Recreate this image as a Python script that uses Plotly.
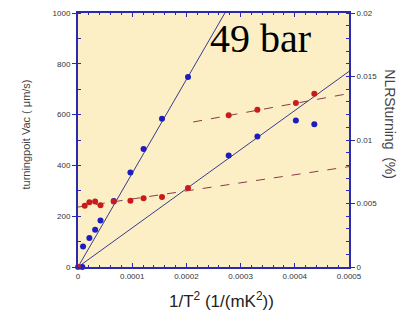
import plotly.graph_objects as go

# Blue: turning point velocity (left axis, um/s)
blue_x = [0.08e-4, 0.093e-4, 0.21e-4, 0.316e-4, 0.415e-4, 0.66e-4, 0.967e-4, 1.21e-4, 1.55e-4, 2.03e-4,
          2.78e-4, 3.31e-4, 4.02e-4, 4.36e-4]
blue_y = [0, 81, 114, 147, 183, 260, 372, 465, 584, 748,
          439, 514, 577, 562]

# Red: NLRS turning (right axis, %)
red_x = [0.0, 0.124e-4, 0.21e-4, 0.316e-4, 0.415e-4, 0.66e-4, 0.967e-4, 1.21e-4, 1.55e-4, 2.03e-4,
         2.78e-4, 3.31e-4, 4.02e-4, 4.36e-4]
red_y = [0.0, 0.00483, 0.0051, 0.00516, 0.00486, 0.00516, 0.00522, 0.00542, 0.00552, 0.00622,
         0.01194, 0.01238, 0.01292, 0.01364]

# Fit lines: (slope, intercept, x_start, x_end)
blue_fits = [(3.69e6, 0.0, 0.0, 2.71e-4), (1.54e6, 0.0, 0.0, 5.0e-4)]
red_fits = [(6.36, 0.00472, 0.0, 5.0e-4), (7.8, 0.00976, 2.125e-4, 5.0e-4)]

x_ticks = [0, 0.0001, 0.0002, 0.0003, 0.0004, 0.0005]
x_labels = ["0", "0.0001", "0.0002", "0.0003", "0.0004", "0.0005"]
y_ticks = [0, 200, 400, 600, 800, 1000]
y2_ticks = [0, 0.005, 0.01, 0.015, 0.02]
y2_labels = ["0", "0.005", "0.01", "0.015", "0.02"]

fig = go.Figure()
for s, b, x0, x1 in blue_fits:
    fig.add_trace(go.Scatter(x=[x0, x1], y=[b + s * x0, b + s * x1], mode="lines",
                             line=dict(color="#3a3a90", width=1), yaxis="y", showlegend=False))
for s, b, x0, x1 in red_fits:
    fig.add_trace(go.Scatter(x=[x0, x1], y=[b + s * x0, b + s * x1], mode="lines",
                             line=dict(color="#8a3a4a", width=1, dash="dash"), yaxis="y2", showlegend=False))
fig.add_trace(go.Scatter(x=blue_x, y=blue_y, mode="markers",
                         marker=dict(color="#1c1cc0", size=6), yaxis="y", showlegend=False, cliponaxis=False))
fig.add_trace(go.Scatter(x=red_x, y=red_y, mode="markers",
                         marker=dict(color="#c81c1c", size=6), yaxis="y2", showlegend=False, cliponaxis=False))

frame = "#2a2ab0"
tickfont = dict(family="Arial", size=8, color="#333333")
fig.update_layout(
    width=415, height=317,
    margin=dict(l=78, r=66, t=9, b=50),
    paper_bgcolor="white",
    plot_bgcolor="#fcefc6",
    showlegend=False,
    xaxis=dict(range=[0, 0.0005], tickvals=x_ticks, ticktext=x_labels, ticks="inside", ticklen=4,
               tickcolor=frame, showgrid=False, zeroline=False, showline=True, linecolor=frame,
               linewidth=2, mirror="ticks", tickfont=tickfont,
               minor=dict(dtick=0.00002, ticks="inside", ticklen=2, tickcolor=frame)),
    yaxis=dict(range=[0, 1000], tickvals=y_ticks, ticks="outside", ticklen=4, tickcolor=frame,
               showgrid=False, zeroline=False, showline=True, linecolor=frame, linewidth=2,
               tickfont=tickfont,
               minor=dict(dtick=100, ticks="inside", ticklen=3, tickcolor=frame)),
    yaxis2=dict(range=[0, 0.02], tickvals=y2_ticks, ticktext=y2_labels, overlaying="y", side="right",
                ticks="outside", ticklen=4, tickcolor=frame, showgrid=False, zeroline=False,
                showline=True, linecolor=frame, linewidth=2, tickfont=tickfont,
                minor=dict(dtick=0.001, ticks="inside", ticklen=3, tickcolor=frame)),
)

fig.add_annotation(text="49 bar", xref="paper", yref="paper", x=0.48, y=0.995, xanchor="left",
                   yanchor="top", showarrow=False,
                   font=dict(family="Liberation Serif", size=40, color="black"))
fig.add_annotation(text="turningpoit Vac ( μm/s)", xref="paper", yref="paper", x=-0.22, y=0.523,
                   textangle=-90, showarrow=False, font=dict(family="Arial", size=11, color="#444444"))
fig.add_annotation(text="NLRSturning  (%)", xref="paper", yref="paper", x=1.19, y=0.56,
                   textangle=90, showarrow=False, font=dict(family="Arial", size=14, color="#444444"))
fig.add_annotation(text="1/T<sup>2</sup> (1/(mK<sup>2</sup>))", xref="paper", yref="paper",
                   x=0.53, y=-0.128, yanchor="middle", showarrow=False,
                   font=dict(family="Arial", size=17, color="#222222"))

fig.write_html("out.html", config={"displayModeBar": False},
               post_script="document.body.style.margin='0px';")
